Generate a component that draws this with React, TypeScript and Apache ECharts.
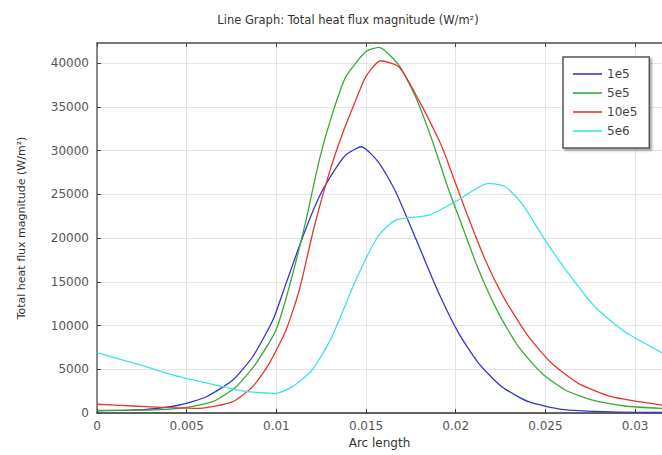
import React, { useEffect, useRef } from "react";
import * as echarts from "echarts";

const titleText = "Line Graph: Total heat flux magnitude (W/m²)";
const xAxisTitle = "Arc length";
const yAxisTitle = "Total heat flux magnitude (W/m²)";
const seriesNames = ["1e5", "5e5", "10e5", "5e6"];
const seriesColors = ["#3535cf", "#36ab36", "#e8352c", "#3fe3e3"];

const s1e5: [number, number][] = [
  [0, 250], [0.00276, 420], [0.0046, 914], [0.0061, 1860], [0.00757, 3770],
  [0.00868, 6430], [0.0098, 10600], [0.01054, 14820], [0.0115, 20300],
  [0.01239, 24720], [0.01313, 27390], [0.01387, 29490], [0.01474, 30440],
  [0.01572, 28600], [0.01665, 25300], [0.0178, 19800], [0.01906, 13680],
  [0.02017, 9100], [0.02128, 5680], [0.02257, 3000], [0.02406, 1290],
  [0.0259, 420], [0.0287, 120], [0.0315, 60],
];
const s5e5: [number, number][] = [
  [0, 300], [0.0025, 320], [0.0046, 530], [0.00646, 1290], [0.00776, 3010],
  [0.00887, 5680], [0.00998, 9490], [0.01072, 14430], [0.01165, 22000],
  [0.01239, 28910], [0.01313, 34250], [0.01387, 38430], [0.01498, 41290],
  [0.01572, 41790], [0.01683, 39770], [0.01776, 36150], [0.01868, 31200],
  [0.01961, 25490], [0.02017, 22430], [0.02128, 16340], [0.02239, 11390],
  [0.0235, 7580], [0.0248, 4540], [0.0261, 2630], [0.02757, 1490],
  [0.02943, 800], [0.0315, 520],
];
const s10e5: [number, number][] = [
  [0, 1000], [0.002, 800], [0.004, 620], [0.00572, 530], [0.00757, 1290],
  [0.00868, 3010], [0.00961, 5680], [0.01054, 9490], [0.01128, 14060],
  [0.01211, 21290], [0.01294, 27390], [0.01369, 31960], [0.01443, 35770],
  [0.01498, 38430], [0.01581, 40270], [0.01683, 39580], [0.01794, 35770],
  [0.01906, 31200], [0.0195, 29000], [0.02054, 23200], [0.02165, 17490],
  [0.02276, 12910], [0.02406, 8720], [0.02535, 5680], [0.02683, 3390],
  [0.02868, 1860], [0.0315, 900],
];
const s5e6: [number, number][] = [
  [0, 6900], [0.0024, 5490], [0.0046, 4150], [0.00683, 3086], [0.0083, 2476],
  [0.00998, 2250], [0.0109, 3010], [0.012, 4914], [0.0131, 8720],
  [0.01443, 15200], [0.01565, 20150], [0.01665, 22057], [0.0185, 22630],
  [0.01998, 24150], [0.02183, 26250], [0.02276, 25870], [0.02368, 23960],
  [0.02498, 19770], [0.02628, 15960], [0.02776, 12150], [0.02943, 9290],
  [0.0315, 6900],
];
const seriesData = [s1e5, s5e5, s10e5, s5e6];

const xMin = 0;
const xMax = 0.0315;
const xInterval = 0.005;
const yMin = 0;
const yMax = 42300;
const yInterval = 5000;

const FONT = "DejaVu Sans";

export default function App() {
  const ref = useRef<HTMLDivElement>(null);
  useEffect(() => {
    if (!ref.current) return;
    const chart = echarts.init(ref.current, undefined, { renderer: "svg" });
    const labelStyle = { fontFamily: FONT, fontSize: 12, color: "#555" };
    chart.setOption({
      animation: false,
      backgroundColor: "#ffffff",
      title: {
        text: titleText,
        left: 343,
        top: 9,
        textAlign: "center",
        textStyle: { fontFamily: FONT, fontSize: 11.5, fontWeight: "normal", color: "#333" },
      },
      grid: { left: 97, top: 43, width: 567, height: 370, containLabel: false },
      legend: {
        orient: "vertical",
        left: 563,
        top: 57,
        padding: [10, 12, 10, 10],
        icon: "rect",
        itemWidth: 29,
        itemHeight: 1.6,
        itemGap: 5,
        backgroundColor: "#fff",
        borderColor: "#555",
        borderWidth: 1.5,
        shadowColor: "rgba(0,0,0,0.35)",
        shadowBlur: 2,
        shadowOffsetX: 2,
        shadowOffsetY: 2,
        textStyle: { fontFamily: FONT, fontSize: 12, color: "#444", lineHeight: 14 },
        data: seriesNames,
      },
      xAxis: [
        {
          type: "value",
          min: xMin,
          max: xMax,
          interval: xInterval,
          name: xAxisTitle,
          nameLocation: "middle",
          nameGap: 20,
          nameTextStyle: { fontFamily: FONT, fontSize: 12, color: "#333" },
          axisLine: { show: true, onZero: false, lineStyle: { color: "#333", width: 1.5 } },
          axisTick: { show: true, inside: true, length: 4, lineStyle: { color: "#333" } },
          axisLabel: {
            ...labelStyle,
            margin: 7,
            showMaxLabel: false,
            formatter: (v: number) => String(+v.toFixed(4)),
          },
          splitLine: { show: true, lineStyle: { color: "#e4e4e4", width: 1 } },
        },
        {
          type: "value",
          position: "top",
          min: xMin,
          max: xMax,
          interval: xInterval,
          axisLine: { show: true, onZero: false, lineStyle: { color: "#777", width: 2 } },
          axisTick: { show: true, inside: true, length: 4, lineStyle: { color: "#444" } },
          axisLabel: { show: false },
          splitLine: { show: false },
        },
      ],
      yAxis: {
        type: "value",
        min: yMin,
        max: yMax,
        interval: yInterval,
        name: yAxisTitle,
        nameLocation: "middle",
        nameGap: 70,
        nameTextStyle: { fontFamily: FONT, fontSize: 11, color: "#333" },
        axisLine: { show: true, onZero: false, lineStyle: { color: "#666", width: 1.5 } },
        axisTick: { show: true, inside: true, length: 4, lineStyle: { color: "#444" } },
        axisLabel: {
          ...labelStyle,
          margin: 8,
          showMaxLabel: false,
          formatter: (v: number) => String(v),
        },
        splitLine: { show: true, lineStyle: { color: "#e4e4e4", width: 1 } },
      },
      series: seriesNames.map((name, i) => ({
        name,
        type: "line",
        xAxisIndex: 0,
        data: seriesData[i],
        symbol: "none",
        smooth: 0.2,
        lineStyle: { color: seriesColors[i], width: 1.3 },
        itemStyle: { color: seriesColors[i] },
      })),
    });
    return () => chart.dispose();
  }, []);
  return (
    <div
      ref={ref}
      style={{ position: "absolute", left: 0, top: 0, width: 662, height: 455 }}
    />
  );
}
